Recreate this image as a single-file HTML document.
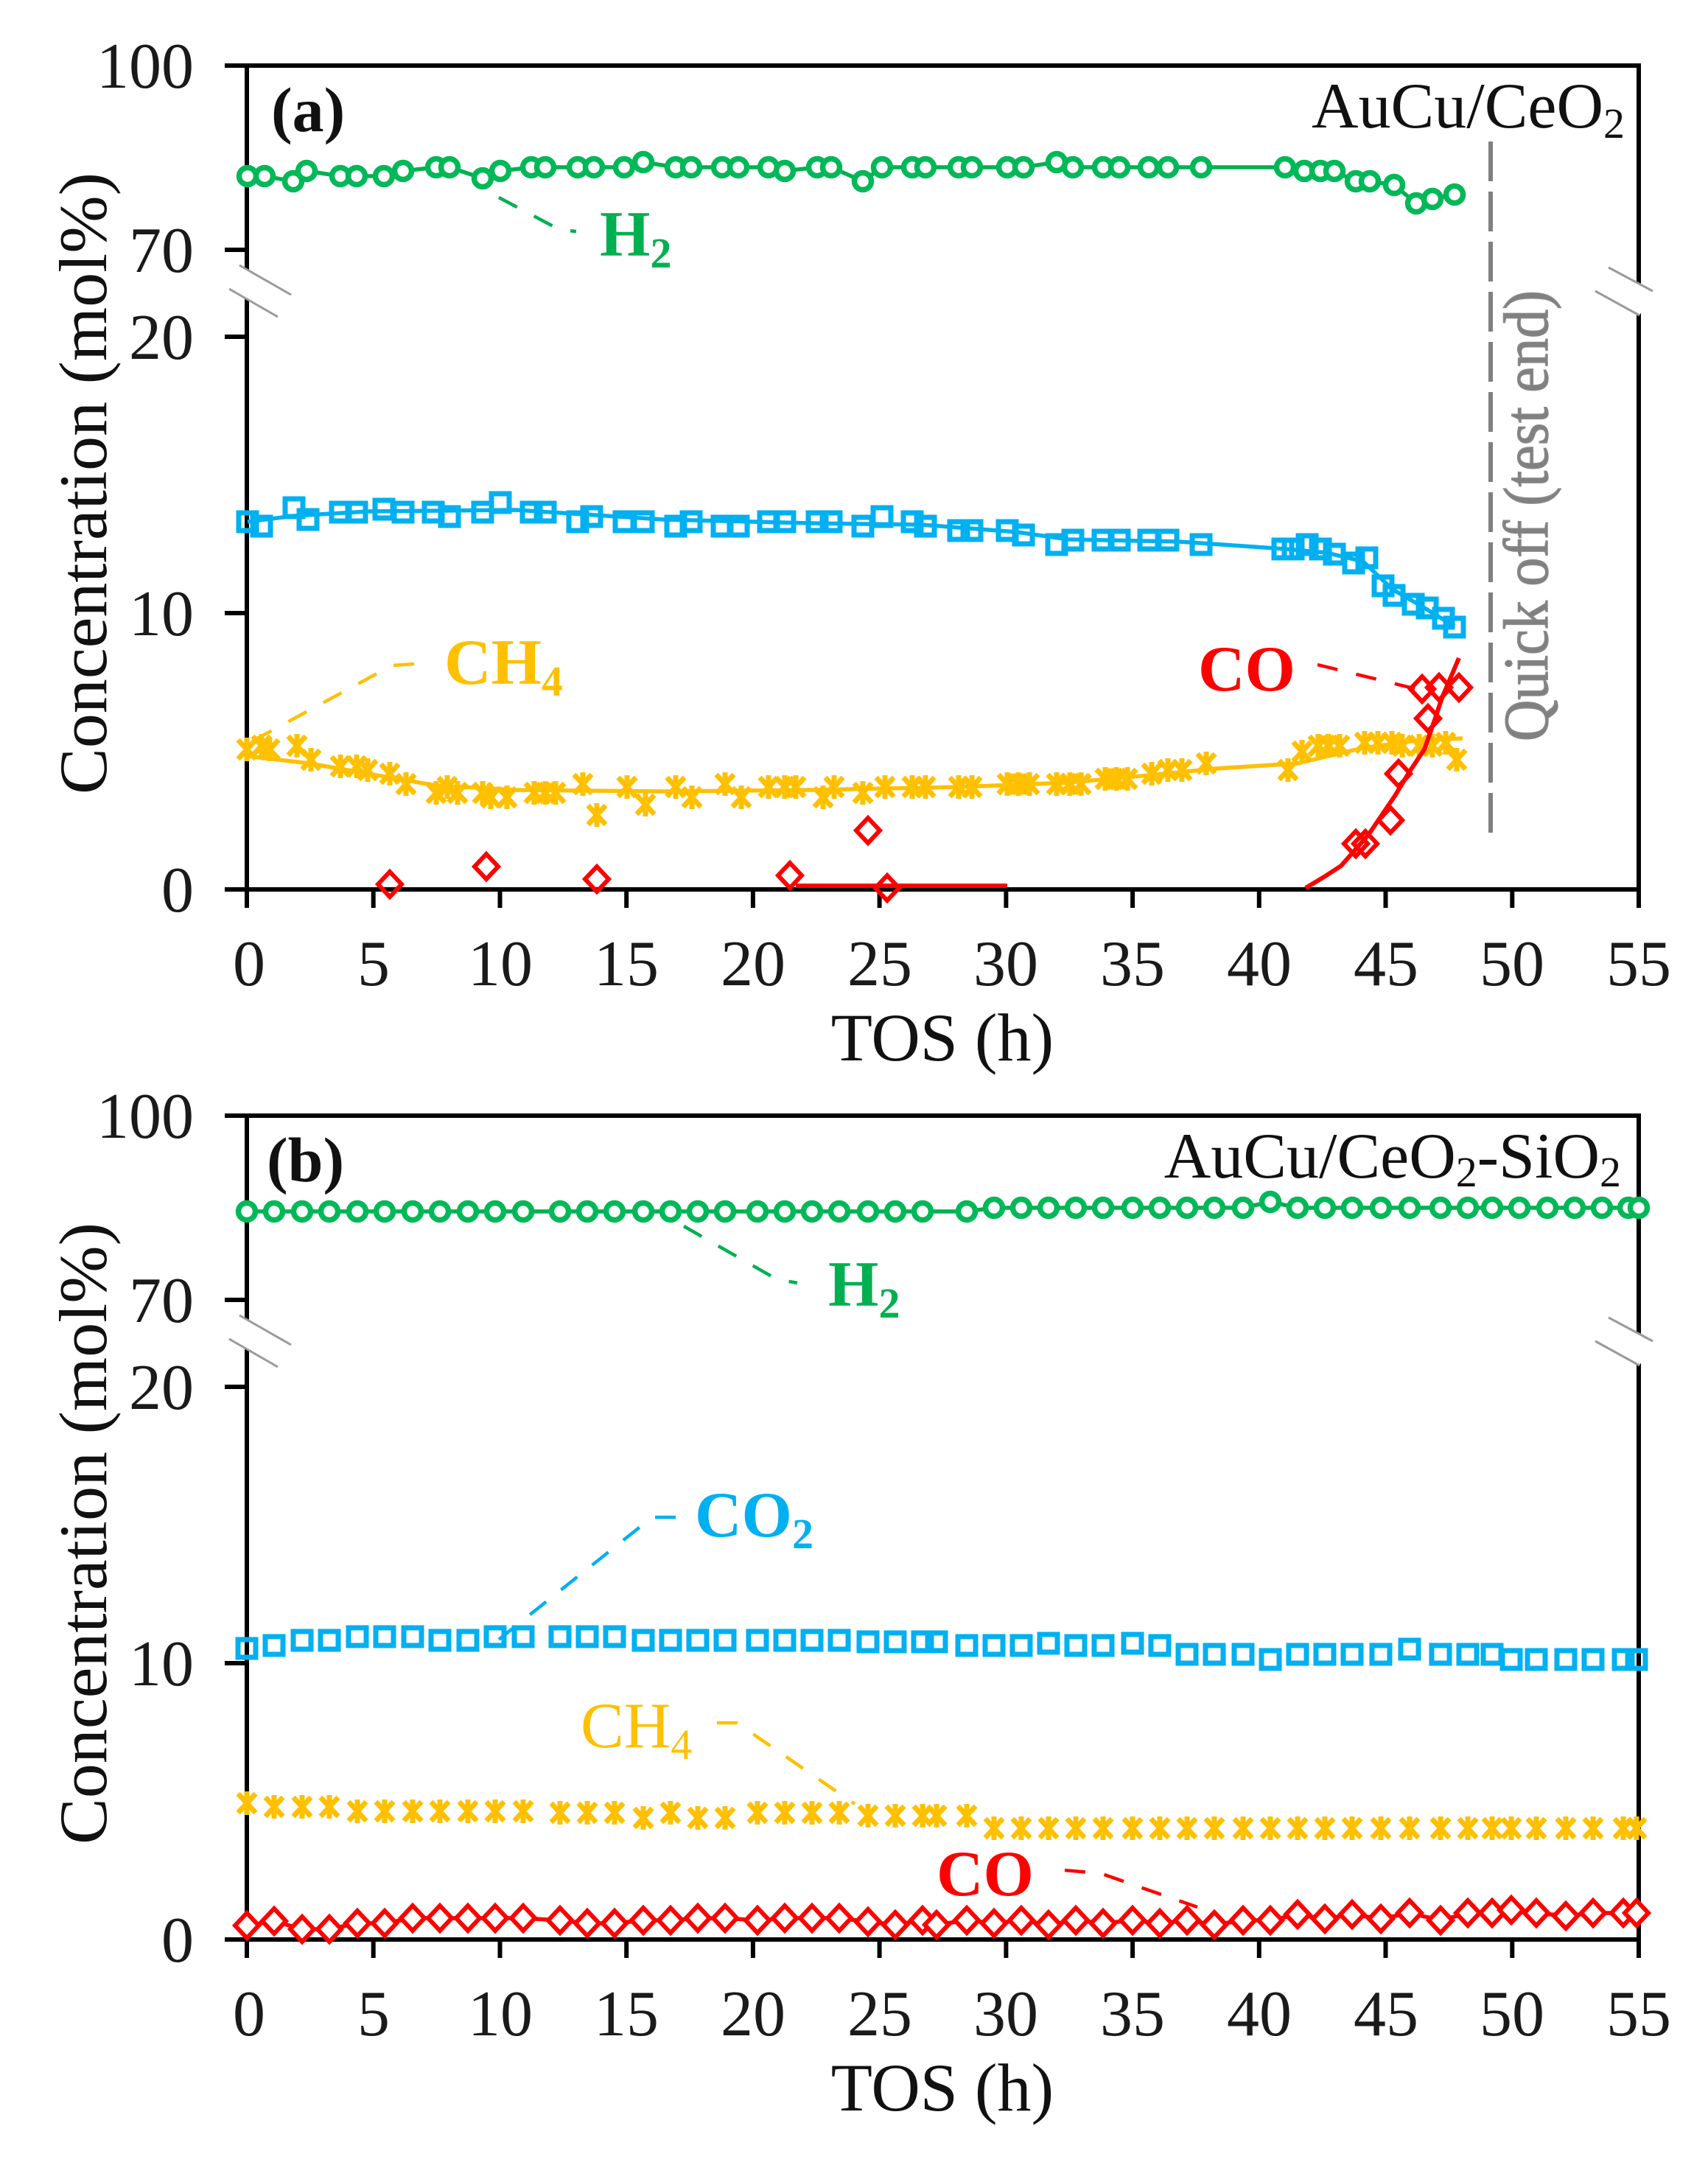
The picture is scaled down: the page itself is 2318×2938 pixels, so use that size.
<!DOCTYPE html>
<html>
<head>
<meta charset="utf-8">
<style>
html,body{margin:0;padding:0;background:#fff;}
svg{display:block;}
</style>
</head>
<body>
<svg width="2318" height="2938" viewBox="0 0 2318 2938" xmlns="http://www.w3.org/2000/svg" font-family="'Liberation Serif','Times New Roman',serif">
<defs>
<g id="mc"><circle r="11.5" fill="#fff" stroke="#00B858" stroke-width="7.5"/></g>
<g id="ms"><rect x="-12" y="-12" width="24" height="24" fill="none" stroke="#00B0F0" stroke-width="7"/></g>
<g id="md"><path d="M0,-17L16,0L0,17L-16,0Z" fill="none" stroke="#FF0000" stroke-width="6"/></g>
<g id="mdw"><path d="M0,-17L16,0L0,17L-16,0Z" fill="#fff" stroke="#FF0000" stroke-width="6"/></g>
<g id="mx"><path d="M-12,-13L12,13M12,-13L-12,13M0,-16L0,16" stroke="#FFC000" stroke-width="7" fill="none"/></g>
</defs>
<rect width="2318" height="2938" fill="#fff"/>

<!-- ================= PANEL A ================= -->
<g stroke="#000" stroke-width="6" fill="none" stroke-linecap="square">
<path d="M308,89H2224V1207H308M335,89V1207M308,339H335M308,457H335M308,832H335"/>
<path d="M335,1207V1229M506.7,1207V1229M678.5,1207V1229M850.2,1207V1229M1021.9,1207V1229M1193.6,1207V1229M1365.4,1207V1229M1537.1,1207V1229M1708.8,1207V1229M1880.5,1207V1229M2052.3,1207V1229M2224,1207V1229"/>
</g>
<!-- breaks -->
<polygon points="325,361 395,401 377,430 311,392" fill="#fff"/>
<path d="M325,360L395,400M311,392L377,430" stroke="#9a9a9a" stroke-width="3" fill="none"/>
<polygon points="2183,363 2243,395 2225,428 2165,395" fill="#fff"/>
<path d="M2183,363L2243,395M2165,395L2225,428" stroke="#9a9a9a" stroke-width="3" fill="none"/>

<g font-size="88" fill="#1a1a1a" text-anchor="end">
<text x="263" y="119">100</text>
<text x="263" y="369">70</text>
<text x="263" y="487">20</text>
<text x="263" y="862">10</text>
<text x="263" y="1237">0</text>
</g>
<g font-size="88" fill="#1a1a1a" text-anchor="middle">
<text x="338" y="1337">0</text>
<text x="507" y="1337">5</text>
<text x="679" y="1337">10</text>
<text x="850" y="1337">15</text>
<text x="1022" y="1337">20</text>
<text x="1194" y="1337">25</text>
<text x="1365" y="1337">30</text>
<text x="1537" y="1337">35</text>
<text x="1709" y="1337">40</text>
<text x="1881" y="1337">45</text>
<text x="2052" y="1337">50</text>
<text x="2224" y="1337">55</text>
</g>
<text x="1279" y="1439" font-size="92" text-anchor="middle" fill="#111">TOS (h)</text>
<text transform="translate(144,656) rotate(-90)" text-anchor="middle" font-size="92" fill="#111" textLength="844" lengthAdjust="spacingAndGlyphs">Concentration (mol%)</text>
<text x="368" y="178" font-size="86" font-weight="bold" fill="#111">(a)</text>
<text x="2205" y="173" font-size="88" text-anchor="end" fill="#111">AuCu/CeO<tspan font-size="58" dy="14">2</tspan></text>

<!-- quick off -->
<line x1="2023" y1="192" x2="2023" y2="1135" stroke="#808080" stroke-width="6" stroke-dasharray="54 14"/>
<text transform="translate(2100,700) rotate(-90)" text-anchor="middle" font-size="86" fill="#808080" stroke="#8a8a8a" stroke-width="1.5" textLength="612" lengthAdjust="spacingAndGlyphs">Quick off (test end)</text>

<!-- H2 a -->
<polyline fill="none" stroke="#00B050" stroke-width="5.5" points="336,239 359,239 398,246 416,232 462,239 484,239 521,239 547,232 592,227 610,227 655,242 679,232 721,227 740,227 784,227 806,227 847,227 873,220 917,227 938,227 980,227 1002,227 1043,227 1065,232 1109,227 1128,227 1171,246 1197,227 1238,227 1256,227 1301,227 1319,227 1367,227 1389,227 1434,220 1456,227 1497,227 1519,227 1559,227 1585,227 1630,227 1744,227 1770,232 1792,232 1811,232 1840,246 1859,246 1892,251 1922,276 1944,270 1974,264"/>
<g>
<use href="#mc" x="336" y="239"/><use href="#mc" x="359" y="239"/><use href="#mc" x="398" y="246"/><use href="#mc" x="416" y="232"/><use href="#mc" x="462" y="239"/><use href="#mc" x="484" y="239"/><use href="#mc" x="521" y="239"/><use href="#mc" x="547" y="232"/><use href="#mc" x="592" y="227"/><use href="#mc" x="610" y="227"/><use href="#mc" x="655" y="242"/><use href="#mc" x="679" y="232"/><use href="#mc" x="721" y="227"/><use href="#mc" x="740" y="227"/><use href="#mc" x="784" y="227"/><use href="#mc" x="806" y="227"/><use href="#mc" x="847" y="227"/><use href="#mc" x="873" y="220"/><use href="#mc" x="917" y="227"/><use href="#mc" x="938" y="227"/><use href="#mc" x="980" y="227"/><use href="#mc" x="1002" y="227"/><use href="#mc" x="1043" y="227"/><use href="#mc" x="1065" y="232"/><use href="#mc" x="1109" y="227"/><use href="#mc" x="1128" y="227"/><use href="#mc" x="1171" y="246"/><use href="#mc" x="1197" y="227"/><use href="#mc" x="1238" y="227"/><use href="#mc" x="1256" y="227"/><use href="#mc" x="1301" y="227"/><use href="#mc" x="1319" y="227"/><use href="#mc" x="1367" y="227"/><use href="#mc" x="1389" y="227"/><use href="#mc" x="1434" y="220"/><use href="#mc" x="1456" y="227"/><use href="#mc" x="1497" y="227"/><use href="#mc" x="1519" y="227"/><use href="#mc" x="1559" y="227"/><use href="#mc" x="1585" y="227"/><use href="#mc" x="1630" y="227"/><use href="#mc" x="1744" y="227"/><use href="#mc" x="1770" y="232"/><use href="#mc" x="1792" y="232"/><use href="#mc" x="1811" y="232"/><use href="#mc" x="1840" y="246"/><use href="#mc" x="1859" y="246"/><use href="#mc" x="1892" y="251"/><use href="#mc" x="1922" y="276"/><use href="#mc" x="1944" y="270"/><use href="#mc" x="1974" y="264"/>
</g>

<!-- CO2 a -->
<polyline fill="none" stroke="#00B0F0" stroke-width="5.5" points="336,708 400,700 500,694 700,692 900,705 1100,710 1250,712 1380,722 1450,732 1600,735 1744,745 1800,750 1850,762 1890,800 1930,823 1974,850"/>
<g>
<use href="#ms" x="336" y="708"/><use href="#ms" x="355" y="714"/><use href="#ms" x="399" y="689"/><use href="#ms" x="418" y="705"/><use href="#ms" x="462" y="695"/><use href="#ms" x="484" y="695"/><use href="#ms" x="521" y="691"/><use href="#ms" x="547" y="695"/><use href="#ms" x="588" y="695"/><use href="#ms" x="610" y="701"/><use href="#ms" x="655" y="695"/><use href="#ms" x="679" y="682"/><use href="#ms" x="721" y="695"/><use href="#ms" x="740" y="695"/><use href="#ms" x="784" y="708"/><use href="#ms" x="803" y="701"/><use href="#ms" x="847" y="708"/><use href="#ms" x="873" y="708"/><use href="#ms" x="917" y="714"/><use href="#ms" x="938" y="708"/><use href="#ms" x="980" y="714"/><use href="#ms" x="1002" y="714"/><use href="#ms" x="1043" y="708"/><use href="#ms" x="1065" y="708"/><use href="#ms" x="1109" y="708"/><use href="#ms" x="1128" y="708"/><use href="#ms" x="1171" y="714"/><use href="#ms" x="1197" y="701"/><use href="#ms" x="1238" y="708"/><use href="#ms" x="1256" y="714"/><use href="#ms" x="1301" y="720"/><use href="#ms" x="1319" y="720"/><use href="#ms" x="1367" y="720"/><use href="#ms" x="1389" y="726"/><use href="#ms" x="1434" y="739"/><use href="#ms" x="1456" y="733"/><use href="#ms" x="1497" y="733"/><use href="#ms" x="1519" y="733"/><use href="#ms" x="1559" y="733"/><use href="#ms" x="1585" y="733"/><use href="#ms" x="1630" y="739"/><use href="#ms" x="1741" y="745"/><use href="#ms" x="1755" y="745"/><use href="#ms" x="1774" y="739"/><use href="#ms" x="1792" y="745"/><use href="#ms" x="1811" y="752"/><use href="#ms" x="1837" y="764"/><use href="#ms" x="1855" y="757"/><use href="#ms" x="1877" y="795"/><use href="#ms" x="1892" y="808"/><use href="#ms" x="1918" y="820"/><use href="#ms" x="1937" y="825"/><use href="#ms" x="1959" y="839"/><use href="#ms" x="1974" y="851"/>
</g>

<!-- CH4 a -->
<polyline fill="none" stroke="#FFC000" stroke-width="5.5" points="336,1026 420,1036 500,1050 592,1066 700,1072 900,1074 1100,1072 1300,1068 1450,1062 1560,1052 1650,1043 1760,1036 1850,1015 1930,1004 1985,1002"/>
<g>
<use href="#mx" x="335" y="1017"/><use href="#mx" x="355" y="1012"/><use href="#mx" x="366" y="1017"/><use href="#mx" x="403" y="1012"/><use href="#mx" x="422" y="1031"/><use href="#mx" x="462" y="1040"/><use href="#mx" x="484" y="1040"/><use href="#mx" x="499" y="1045"/><use href="#mx" x="529" y="1050"/><use href="#mx" x="551" y="1064"/><use href="#mx" x="592" y="1076"/><use href="#mx" x="607" y="1068"/><use href="#mx" x="621" y="1076"/><use href="#mx" x="655" y="1076"/><use href="#mx" x="666" y="1082"/><use href="#mx" x="688" y="1082"/><use href="#mx" x="725" y="1076"/><use href="#mx" x="740" y="1076"/><use href="#mx" x="754" y="1076"/><use href="#mx" x="791" y="1064"/><use href="#mx" x="810" y="1106"/><use href="#mx" x="851" y="1068"/><use href="#mx" x="876" y="1092"/><use href="#mx" x="917" y="1068"/><use href="#mx" x="939" y="1082"/><use href="#mx" x="984" y="1064"/><use href="#mx" x="1006" y="1082"/><use href="#mx" x="1043" y="1068"/><use href="#mx" x="1065" y="1068"/><use href="#mx" x="1080" y="1068"/><use href="#mx" x="1117" y="1082"/><use href="#mx" x="1132" y="1068"/><use href="#mx" x="1171" y="1076"/><use href="#mx" x="1201" y="1068"/><use href="#mx" x="1238" y="1068"/><use href="#mx" x="1256" y="1068"/><use href="#mx" x="1301" y="1068"/><use href="#mx" x="1319" y="1068"/><use href="#mx" x="1367" y="1064"/><use href="#mx" x="1382" y="1064"/><use href="#mx" x="1397" y="1064"/><use href="#mx" x="1434" y="1064"/><use href="#mx" x="1452" y="1064"/><use href="#mx" x="1467" y="1064"/><use href="#mx" x="1500" y="1057"/><use href="#mx" x="1515" y="1057"/><use href="#mx" x="1530" y="1057"/><use href="#mx" x="1563" y="1050"/><use href="#mx" x="1585" y="1045"/><use href="#mx" x="1604" y="1045"/><use href="#mx" x="1637" y="1036"/><use href="#mx" x="1748" y="1045"/><use href="#mx" x="1767" y="1020"/><use href="#mx" x="1789" y="1012"/><use href="#mx" x="1803" y="1012"/><use href="#mx" x="1818" y="1012"/><use href="#mx" x="1852" y="1008"/><use href="#mx" x="1870" y="1008"/><use href="#mx" x="1889" y="1008"/><use href="#mx" x="1903" y="1012"/><use href="#mx" x="1926" y="1012"/><use href="#mx" x="1944" y="1012"/><use href="#mx" x="1962" y="1008"/><use href="#mx" x="1977" y="1031"/>
</g>

<!-- CO a -->
<line x1="1080" y1="1202" x2="1367" y2="1202" stroke="#FF0000" stroke-width="6"/>
<polyline fill="none" stroke="#FF0000" stroke-width="6" points="1772,1205 1797,1190 1820,1175 1857,1133 1893,1080 1913,1047 1933,1017 1947,977 1957,947 1980,893"/>
<g>
<use href="#md" x="529" y="1200"/><use href="#md" x="660" y="1176"/><use href="#md" x="810" y="1193"/><use href="#md" x="1072" y="1188"/><use href="#md" x="1178" y="1127"/><use href="#md" x="1204" y="1205"/><use href="#md" x="1840" y="1145"/><use href="#md" x="1853" y="1145"/><use href="#md" x="1887" y="1113"/><use href="#md" x="1898" y="1050"/><use href="#md" x="1938" y="975"/><use href="#md" x="1930" y="935"/><use href="#md" x="1953" y="933"/><use href="#md" x="1980" y="933"/>
</g>

<!-- leaders & labels a -->
<g fill="none" stroke-width="4.5" stroke-dasharray="28 26">
<polyline stroke="#00B050" points="677,268 760,312 782,314"/>
<polyline stroke="#FFC000" points="562,901 532,903 340,1007"/>
<polyline stroke="#FF0000" points="1788,902 1922,935"/>
</g>
<text x="814" y="347" font-size="88" font-weight="bold" fill="#00B050">H<tspan font-size="58" dy="16">2</tspan></text>
<text x="603" y="928" font-size="88" font-weight="bold" fill="#FFC000">CH<tspan font-size="58" dy="16">4</tspan></text>
<text x="1626" y="937" font-size="88" font-weight="bold" fill="#FF0000">CO</text>

<!-- ================= PANEL B ================= -->
<g stroke="#000" stroke-width="6" fill="none" stroke-linecap="square">
<path d="M308,1514H2224V2632H308M335,1514V2632M308,1764H335M308,1882H335M308,2257H335"/>
<path d="M335,2632V2654M506.7,2632V2654M678.5,2632V2654M850.2,2632V2654M1021.9,2632V2654M1193.6,2632V2654M1365.4,2632V2654M1537.1,2632V2654M1708.8,2632V2654M1880.5,2632V2654M2052.3,2632V2654M2224,2632V2654"/>
</g>
<polygon points="325,1786 395,1826 377,1855 311,1817" fill="#fff"/>
<path d="M325,1785L395,1825M311,1817L377,1855" stroke="#9a9a9a" stroke-width="3" fill="none"/>
<polygon points="2183,1788 2243,1820 2225,1853 2165,1820" fill="#fff"/>
<path d="M2183,1788L2243,1820M2165,1820L2225,1853" stroke="#9a9a9a" stroke-width="3" fill="none"/>

<g font-size="88" fill="#1a1a1a" text-anchor="end">
<text x="263" y="1544">100</text>
<text x="263" y="1794">70</text>
<text x="263" y="1912">20</text>
<text x="263" y="2287">10</text>
<text x="263" y="2662">0</text>
</g>
<g font-size="88" fill="#1a1a1a" text-anchor="middle">
<text x="338" y="2762">0</text>
<text x="507" y="2762">5</text>
<text x="679" y="2762">10</text>
<text x="850" y="2762">15</text>
<text x="1022" y="2762">20</text>
<text x="1194" y="2762">25</text>
<text x="1365" y="2762">30</text>
<text x="1537" y="2762">35</text>
<text x="1709" y="2762">40</text>
<text x="1881" y="2762">45</text>
<text x="2052" y="2762">50</text>
<text x="2224" y="2762">55</text>
</g>
<text x="1279" y="2864" font-size="92" text-anchor="middle" fill="#111">TOS (h)</text>
<text transform="translate(144,2081) rotate(-90)" text-anchor="middle" font-size="92" fill="#111" textLength="844" lengthAdjust="spacingAndGlyphs">Concentration (mol%)</text>
<text x="362" y="1603" font-size="86" font-weight="bold" fill="#111">(b)</text>
<text x="2200" y="1598" font-size="88" text-anchor="end" fill="#111">AuCu/CeO<tspan font-size="58" dy="12">2</tspan><tspan dy="-12">-SiO</tspan><tspan font-size="58" dy="12">2</tspan></text>

<!-- H2 b -->
<polyline fill="none" stroke="#00B050" stroke-width="5.5" points="335,1644 710,1644 760,1644 1312,1644 1349,1639 1687,1639 1724,1631 1761,1639 2224,1639"/>
<g>
<use href="#mc" x="335" y="1644"/><use href="#mc" x="372" y="1644"/><use href="#mc" x="410" y="1644"/><use href="#mc" x="447" y="1644"/><use href="#mc" x="485" y="1644"/><use href="#mc" x="522" y="1644"/><use href="#mc" x="560" y="1644"/><use href="#mc" x="597" y="1644"/><use href="#mc" x="635" y="1644"/><use href="#mc" x="672" y="1644"/><use href="#mc" x="710" y="1644"/><use href="#mc" x="760" y="1644"/><use href="#mc" x="797" y="1644"/><use href="#mc" x="834" y="1644"/><use href="#mc" x="873" y="1644"/><use href="#mc" x="910" y="1644"/><use href="#mc" x="947" y="1644"/><use href="#mc" x="984" y="1644"/><use href="#mc" x="1028" y="1644"/><use href="#mc" x="1065" y="1644"/><use href="#mc" x="1102" y="1644"/><use href="#mc" x="1139" y="1644"/><use href="#mc" x="1178" y="1644"/><use href="#mc" x="1215" y="1644"/><use href="#mc" x="1252" y="1644"/><use href="#mc" x="1312" y="1644"/><use href="#mc" x="1349" y="1639"/><use href="#mc" x="1386" y="1639"/><use href="#mc" x="1423" y="1639"/><use href="#mc" x="1460" y="1639"/><use href="#mc" x="1497" y="1639"/><use href="#mc" x="1537" y="1639"/><use href="#mc" x="1574" y="1639"/><use href="#mc" x="1611" y="1639"/><use href="#mc" x="1648" y="1639"/><use href="#mc" x="1687" y="1639"/><use href="#mc" x="1724" y="1631"/><use href="#mc" x="1761" y="1639"/><use href="#mc" x="1798" y="1639"/><use href="#mc" x="1835" y="1639"/><use href="#mc" x="1874" y="1639"/><use href="#mc" x="1913" y="1639"/><use href="#mc" x="1955" y="1639"/><use href="#mc" x="1992" y="1639"/><use href="#mc" x="2025" y="1639"/><use href="#mc" x="2062" y="1639"/><use href="#mc" x="2100" y="1639"/><use href="#mc" x="2137" y="1639"/><use href="#mc" x="2174" y="1639"/><use href="#mc" x="2210" y="1639"/><use href="#mc" x="2224" y="1639"/>
</g>

<!-- CO2 b -->
<g>
<use href="#ms" x="335" y="2237"/><use href="#ms" x="372" y="2233"/><use href="#ms" x="410" y="2226"/><use href="#ms" x="447" y="2226"/><use href="#ms" x="485" y="2221"/><use href="#ms" x="522" y="2221"/><use href="#ms" x="560" y="2221"/><use href="#ms" x="597" y="2226"/><use href="#ms" x="635" y="2226"/><use href="#ms" x="672" y="2221"/><use href="#ms" x="710" y="2221"/><use href="#ms" x="760" y="2221"/><use href="#ms" x="797" y="2221"/><use href="#ms" x="834" y="2221"/><use href="#ms" x="873" y="2226"/><use href="#ms" x="910" y="2226"/><use href="#ms" x="947" y="2226"/><use href="#ms" x="984" y="2226"/><use href="#ms" x="1028" y="2226"/><use href="#ms" x="1065" y="2226"/><use href="#ms" x="1102" y="2226"/><use href="#ms" x="1139" y="2226"/><use href="#ms" x="1178" y="2228"/><use href="#ms" x="1215" y="2228"/><use href="#ms" x="1252" y="2228"/><use href="#ms" x="1271" y="2228"/><use href="#ms" x="1312" y="2233"/><use href="#ms" x="1349" y="2233"/><use href="#ms" x="1386" y="2233"/><use href="#ms" x="1423" y="2230"/><use href="#ms" x="1460" y="2233"/><use href="#ms" x="1497" y="2233"/><use href="#ms" x="1537" y="2230"/><use href="#ms" x="1574" y="2233"/><use href="#ms" x="1611" y="2245"/><use href="#ms" x="1648" y="2245"/><use href="#ms" x="1687" y="2245"/><use href="#ms" x="1724" y="2252"/><use href="#ms" x="1761" y="2245"/><use href="#ms" x="1798" y="2245"/><use href="#ms" x="1835" y="2245"/><use href="#ms" x="1874" y="2245"/><use href="#ms" x="1913" y="2238"/><use href="#ms" x="1955" y="2245"/><use href="#ms" x="1992" y="2245"/><use href="#ms" x="2025" y="2245"/><use href="#ms" x="2051" y="2252"/><use href="#ms" x="2085" y="2252"/><use href="#ms" x="2125" y="2252"/><use href="#ms" x="2162" y="2252"/><use href="#ms" x="2203" y="2252"/><use href="#ms" x="2221" y="2252"/>
</g>

<!-- CH4 b -->
<g>
<use href="#mx" x="335" y="2447"/><use href="#mx" x="372" y="2452"/><use href="#mx" x="410" y="2452"/><use href="#mx" x="447" y="2452"/><use href="#mx" x="485" y="2458"/><use href="#mx" x="522" y="2458"/><use href="#mx" x="560" y="2458"/><use href="#mx" x="597" y="2458"/><use href="#mx" x="635" y="2458"/><use href="#mx" x="672" y="2458"/><use href="#mx" x="710" y="2458"/><use href="#mx" x="760" y="2460"/><use href="#mx" x="797" y="2460"/><use href="#mx" x="834" y="2460"/><use href="#mx" x="873" y="2467"/><use href="#mx" x="910" y="2460"/><use href="#mx" x="947" y="2467"/><use href="#mx" x="984" y="2467"/><use href="#mx" x="1028" y="2460"/><use href="#mx" x="1065" y="2460"/><use href="#mx" x="1102" y="2460"/><use href="#mx" x="1139" y="2460"/><use href="#mx" x="1178" y="2464"/><use href="#mx" x="1215" y="2464"/><use href="#mx" x="1252" y="2464"/><use href="#mx" x="1271" y="2464"/><use href="#mx" x="1312" y="2464"/><use href="#mx" x="1349" y="2481"/><use href="#mx" x="1386" y="2481"/><use href="#mx" x="1423" y="2481"/><use href="#mx" x="1460" y="2481"/><use href="#mx" x="1497" y="2481"/><use href="#mx" x="1537" y="2481"/><use href="#mx" x="1574" y="2481"/><use href="#mx" x="1611" y="2481"/><use href="#mx" x="1648" y="2481"/><use href="#mx" x="1687" y="2481"/><use href="#mx" x="1724" y="2481"/><use href="#mx" x="1761" y="2481"/><use href="#mx" x="1798" y="2481"/><use href="#mx" x="1835" y="2481"/><use href="#mx" x="1874" y="2481"/><use href="#mx" x="1913" y="2481"/><use href="#mx" x="1955" y="2481"/><use href="#mx" x="1992" y="2481"/><use href="#mx" x="2025" y="2481"/><use href="#mx" x="2051" y="2481"/><use href="#mx" x="2085" y="2481"/><use href="#mx" x="2125" y="2481"/><use href="#mx" x="2162" y="2481"/><use href="#mx" x="2203" y="2481"/><use href="#mx" x="2221" y="2481"/>
</g>

<!-- CO b -->
<polyline fill="none" stroke="#FF0000" stroke-width="5.5" points="335,2613 372,2607 410,2618 447,2618 485,2610 522,2610 560,2603 597,2603 635,2603 672,2603 710,2603 760,2606 797,2610 834,2610 873,2606 910,2606 947,2603 984,2603 1028,2606 1065,2603 1102,2603 1139,2603 1178,2608 1215,2612 1252,2606 1271,2612 1312,2606 1349,2610 1386,2606 1423,2612 1460,2606 1497,2610 1537,2606 1574,2610 1611,2606 1648,2612 1687,2606 1724,2606 1761,2598 1798,2604 1835,2598 1874,2604 1913,2596 1955,2606 1992,2596 2025,2596 2051,2592 2085,2596 2125,2600 2162,2596 2203,2596 2221,2596"/>
<g>
<use href="#mdw" x="335" y="2613"/><use href="#mdw" x="372" y="2607"/><use href="#mdw" x="410" y="2618"/><use href="#mdw" x="447" y="2618"/><use href="#mdw" x="485" y="2610"/><use href="#mdw" x="522" y="2610"/><use href="#mdw" x="560" y="2603"/><use href="#mdw" x="597" y="2603"/><use href="#mdw" x="635" y="2603"/><use href="#mdw" x="672" y="2603"/><use href="#mdw" x="710" y="2603"/><use href="#mdw" x="760" y="2606"/><use href="#mdw" x="797" y="2610"/><use href="#mdw" x="834" y="2610"/><use href="#mdw" x="873" y="2606"/><use href="#mdw" x="910" y="2606"/><use href="#mdw" x="947" y="2603"/><use href="#mdw" x="984" y="2603"/><use href="#mdw" x="1028" y="2606"/><use href="#mdw" x="1065" y="2603"/><use href="#mdw" x="1102" y="2603"/><use href="#mdw" x="1139" y="2603"/><use href="#mdw" x="1178" y="2608"/><use href="#mdw" x="1215" y="2612"/><use href="#mdw" x="1252" y="2606"/><use href="#mdw" x="1271" y="2612"/><use href="#mdw" x="1312" y="2606"/><use href="#mdw" x="1349" y="2610"/><use href="#mdw" x="1386" y="2606"/><use href="#mdw" x="1423" y="2612"/><use href="#mdw" x="1460" y="2606"/><use href="#mdw" x="1497" y="2610"/><use href="#mdw" x="1537" y="2606"/><use href="#mdw" x="1574" y="2610"/><use href="#mdw" x="1611" y="2606"/><use href="#mdw" x="1648" y="2612"/><use href="#mdw" x="1687" y="2606"/><use href="#mdw" x="1724" y="2606"/><use href="#mdw" x="1761" y="2598"/><use href="#mdw" x="1798" y="2604"/><use href="#mdw" x="1835" y="2598"/><use href="#mdw" x="1874" y="2604"/><use href="#mdw" x="1913" y="2596"/><use href="#mdw" x="1955" y="2606"/><use href="#mdw" x="1992" y="2596"/><use href="#mdw" x="2025" y="2596"/><use href="#mdw" x="2051" y="2592"/><use href="#mdw" x="2085" y="2596"/><use href="#mdw" x="2125" y="2600"/><use href="#mdw" x="2162" y="2596"/><use href="#mdw" x="2203" y="2596"/><use href="#mdw" x="2221" y="2596"/>
</g>

<!-- leaders & labels b -->
<g fill="none" stroke-width="4.5" stroke-dasharray="28 26">
<polyline stroke="#00B050" points="928,1664 1054,1736 1082,1741"/>
<polyline stroke="#00B0F0" points="917,2059 885,2059 673,2228"/>
<polyline stroke="#FFC000" points="973,2338 1000,2338 1160,2448"/>
<polyline stroke="#FF0000" points="1445,2538 1493,2542 1625,2588"/>
</g>
<text x="1124" y="1772" font-size="88" font-weight="bold" fill="#00B050">H<tspan font-size="58" dy="16">2</tspan></text>
<text x="943" y="2085" font-size="88" font-weight="bold" fill="#00B0F0">CO<tspan font-size="58" dy="16">2</tspan></text>
<text x="788" y="2371" font-size="88" fill="#FFC000">CH<tspan font-size="58" dy="16">4</tspan></text>
<text x="1271" y="2572" font-size="88" font-weight="bold" fill="#FF0000">CO</text>
</svg>
</body>
</html>
